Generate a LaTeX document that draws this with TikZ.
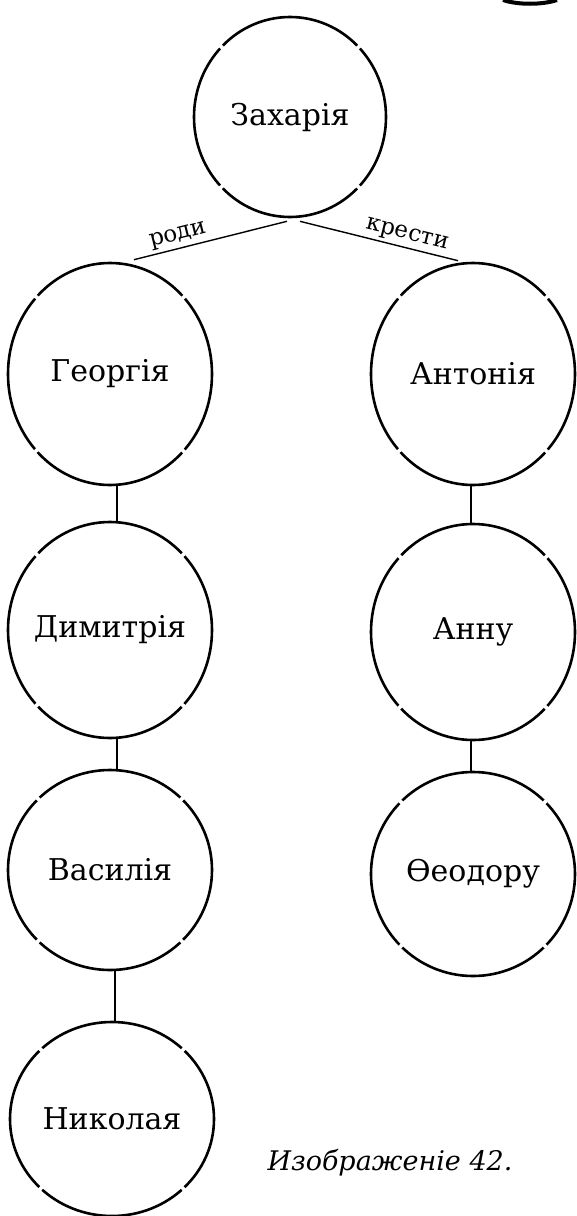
\documentclass[tikz,border=0pt]{standalone}
\usepackage{fontspec}
\setmainfont{DejaVu Serif}
\usetikzlibrary{shapes.geometric}
\tikzset{
  gapq/.code 2 args={%
    \pgfmathsetmacro\gapon{pi*(#1+#2)/8-2}%
    \pgfmathsetmacro\gapphase{pi*(#1+#2)/16-1}%
    \tikzset{dash pattern=on \gapon pt off 2pt,dash phase=\gapphase pt}}}
\begin{document}
\begin{tikzpicture}[x=0.5pt,y=-0.5pt,
  person/.style 2 args={draw,ellipse,line width=1.3pt,minimum width=#1pt,minimum height=#2pt,
    inner ysep=0pt,inner xsep=-20pt,gapq={#1}{#2},font=\fontsize{15}{17}\selectfont},
  link/.style={line width=0.7pt},
  lab/.style={font=\fontsize{11.5}{13}\selectfont,inner sep=1.5pt},
  caption/.style={font=\fontsize{13.5}{16}\selectfont\itshape,inner sep=0pt}]
\useasboundingbox (0,0) rectangle (577,1216);
% fragment of the previous figure at the top edge
\draw[line width=2pt] (503,0) .. controls (518,5) and (542,5) .. (557,0);
\node[person={96}{100}] (z) at (290,117) {Захарія};
\node[person={102}{111}] (g) at (110,374) {Георгія};
\node[person={102}{111}] (a) at (473,374) {Антонія};
\node[person={102}{108}] (d) at (110,630) {Димитрія};
\node[person={102}{108}] (n) at (473,632) {Анну};
\node[person={102}{100}] (v) at (110,870) {Василія};
\node[person={102}{102}] (f) at (473,874) {Ѳеодору};
\node[person={102}{97}] (k) at (112,1119) {Николая};
\draw[link] ([xshift=12pt,yshift=1pt]g.north) -- ([xshift=-1.5pt,yshift=-1.5pt]z.south)
  node[lab,pos=0.31,sloped,above] {роди};
\draw[link] ([xshift=5pt,yshift=-1.5pt]z.south) -- ([xshift=-7.5pt,yshift=0.5pt]a.north)
  node[lab,pos=0.66,sloped,above] {крести};
\draw[link] ([xshift=3.5pt]g.south) -- ([xshift=3.5pt]d.north);
\draw[link] ([xshift=3.5pt]d.south) -- ([xshift=3.5pt]v.north);
\draw[link] ([xshift=2.5pt]v.south) -- ([xshift=1.5pt]k.north);
\draw[link] ([xshift=-1pt]a.south) -- ([xshift=-1pt]n.north);
\draw[link] ([xshift=-1pt]n.south) -- ([xshift=-1pt]f.north);
\node[caption] (cap) at (390,1163) {Изображеніе 42.};
\end{tikzpicture}
\end{document}
